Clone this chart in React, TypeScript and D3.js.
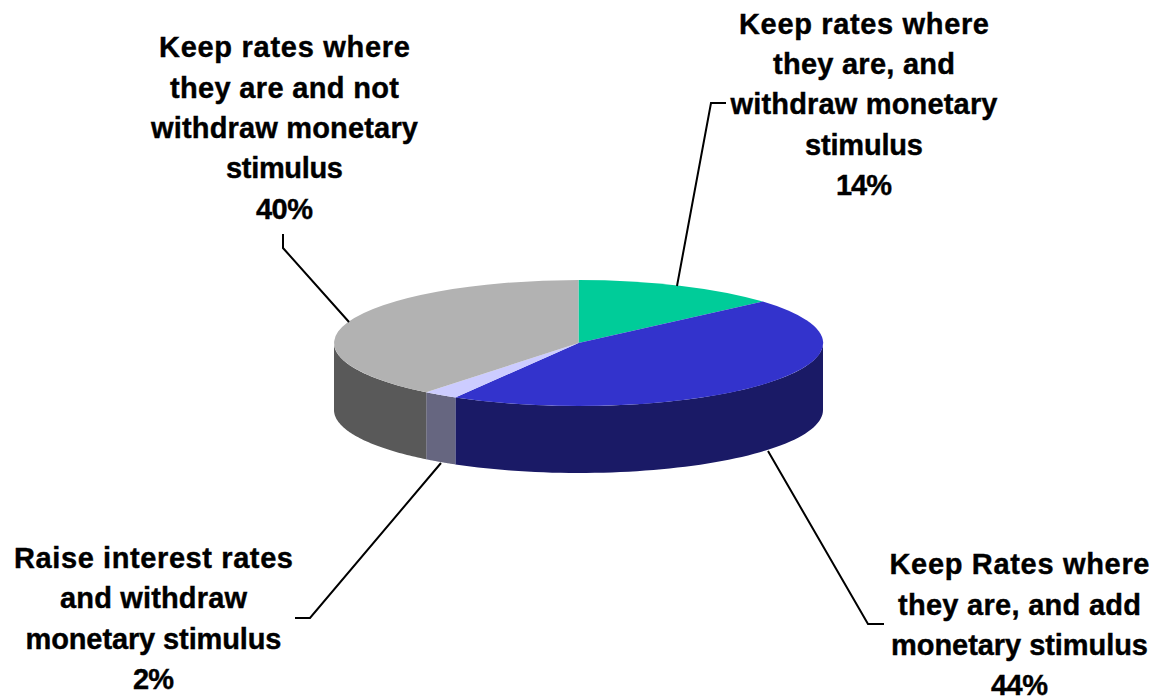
import * as d3 from "d3";

const width = 1157;
const height = 698;

// slice sizes as drawn, clockwise from 12 o'clock. the printed percentages are in the labels
const shares = [13.6, 44.8, 2.3, 39.3];
const topColors = ["#00cc99", "#3333cc", "#ccccff", "#b2b2b2"];
const sideColors = ["#006b50", "#1a1a66", "#666680", "#595959"];

const labels = [
  ["Keep rates where", "they are, and", "withdraw monetary", "stimulus", "14%"],
  ["Keep Rates where", "they are, and add", "monetary stimulus", "44%"],
  ["Raise interest rates", "and withdraw", "monetary stimulus", "2%"],
  ["Keep rates where", "they are and not", "withdraw monetary", "stimulus", "40%"],
];
// measured line widths, the original font runs a bit wider than Liberation
const labelWidths = [
  [250, 182, 267, 118, 56],
  [260, 243, 257, 57],
  [279, 187, 256, 41],
  [251, 229, 267, 117, 57],
];
// centre x and baselines of each label
const labelCenters = [864, 1019.5, 153.5, 284.5];
const labelBaselines = [
  [34, 74, 114, 155, 195],
  [574, 615, 655, 695],
  [568, 608, 649, 689],
  [57, 98, 138, 178, 219],
];

// leader lines, from the pie edge out to the label
const leaders: [number, number][][] = [
  [[677, 286], [711, 103], [726, 103]],
  [[768, 451], [868, 624], [884, 624]],
  [[441, 463], [310, 618], [295, 618]],
  [[349, 322], [283, 248], [283, 234]],
];

// pie geometry
const cx = 578.5;
const cy = 343;
const rx = 244.5;
const ry = 63;
const depth = 67;

const pie = d3.pie<number>().sort(null);
const arcs = pie(shares);
const unitArc = d3.arc<d3.PieArcDatum<number>>().innerRadius(0).outerRadius(1);

// squashed circle, angle 0 at the top and going clockwise
const px = d3.scaleLinear([-1, 1], [cx - rx, cx + rx]);
const py = d3.scaleLinear([-1, 1], [cy - ry, cy + ry]);
const rimPoint = (a: number): [number, number] => [
  px(Math.sin(a)),
  py(-Math.cos(a)),
];

// the wall below the rim, only the part facing the viewer
function sidePath(start: number, end: number) {
  const from = Math.max(start, Math.PI / 2);
  const to = Math.min(end, (Math.PI * 3) / 2);
  if (to <= from) return null;
  const steps = d3.range(0, 61).map((i) => from + ((to - from) * i) / 60);
  const rim = steps.map(rimPoint);
  const lower = rim
    .map(([x, y]): [number, number] => [x, y + depth])
    .reverse();
  return d3.line()([...rim, ...lower]) + "Z";
}

const leaderLine = d3.line();

export default function App() {
  return (
    <svg
      width={width}
      height={height}
      style={{ position: "absolute", left: 0, top: 0, display: "block" }}
    >
      <rect width={width} height={height} fill="#ffffff" />

      {arcs.map((d, i) => {
        const side = sidePath(d.startAngle, d.endAngle);
        return side ? <path key={i} d={side} fill={sideColors[i]} /> : null;
      })}

      <g transform={`translate(${cx} ${cy}) scale(${rx} ${ry})`}>
        {arcs.map((d, i) => (
          <path key={i} d={unitArc(d) ?? ""} fill={topColors[i]} />
        ))}
      </g>

      <g fill="none" stroke="#000000" strokeWidth="2">
        {leaders.map((pts, i) => (
          <path key={i} d={leaderLine(pts) ?? ""} />
        ))}
      </g>

      <g
        fontFamily="'Liberation Sans', Arial, sans-serif"
        fontWeight="bold"
        fontSize="29"
        textAnchor="middle"
        fill="#000000"
        stroke="#000000"
        strokeWidth="0.4"
      >
        {labels.map((lines, i) =>
          lines.map((line, j) => (
            <text
              key={j}
              x={labelCenters[i]}
              y={labelBaselines[i][j]}
              textLength={labelWidths[i][j]}
              lengthAdjust="spacing"
            >
              {line}
            </text>
          )),
        )}
      </g>
    </svg>
  );
}
